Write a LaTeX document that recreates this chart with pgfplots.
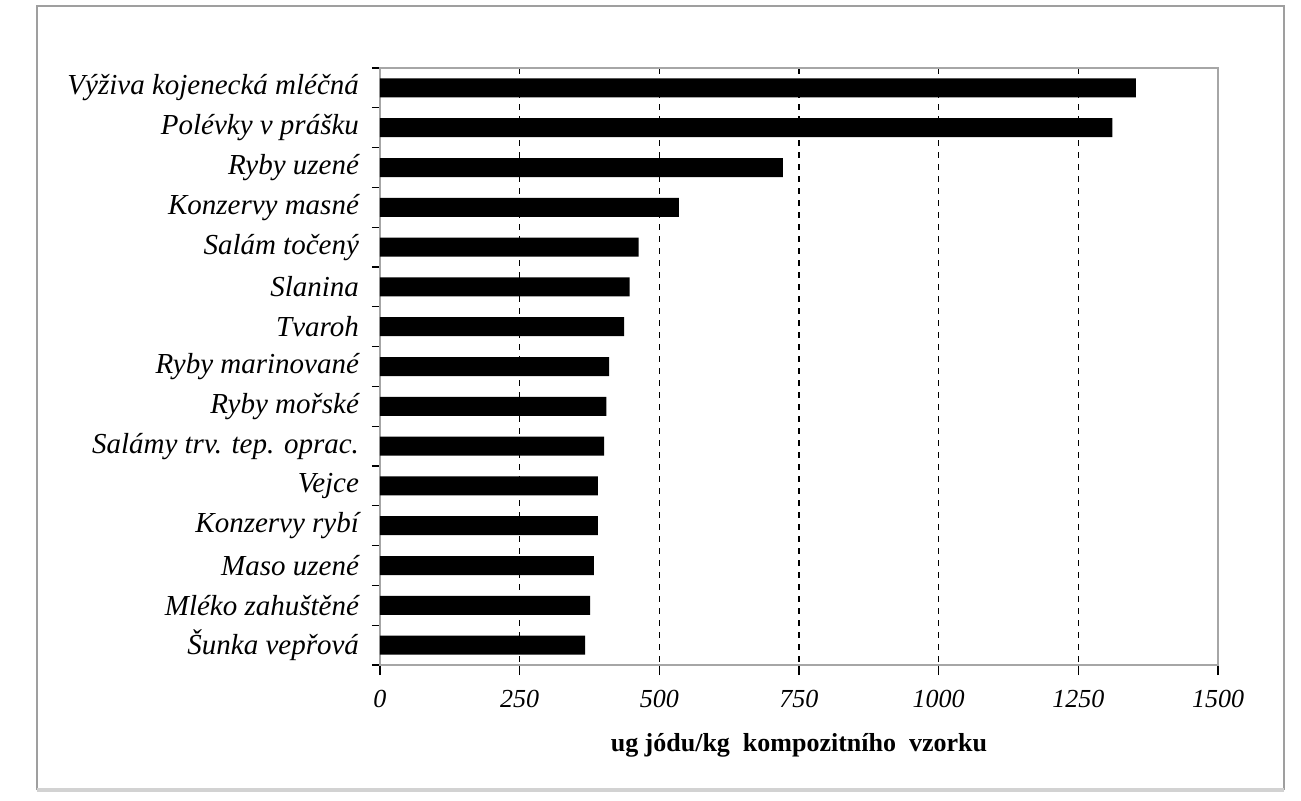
\documentclass[border=0pt]{standalone}
\usepackage{fontspec}
\setmainfont{Liberation Serif}
\usepackage{pgfplots}
\usepackage{pgfplotstable}
\pgfplotsset{compat=1.18}

% obsah jodu, 0 = nahore
\pgfplotstableread{
idx value
0 1353
1 1311
2 721
3 535
4 463
5 447
6 437
7 410
8 405
9 401
10 390
11 390
12 383
13 376
14 367
}\jodtable

\begin{document}
\begin{tikzpicture}
\path (-190pt,-67.5pt) rectangle (460.5pt,332.5pt);
\draw[gray!75, line width=1.3pt] (-171.5pt,-62.5pt) -- (-171.5pt,329.5pt) -- (452pt,329.5pt) -- (452pt,-62.5pt);
\draw[gray!35, line width=2pt] (-171.5pt,-62.5pt) -- (452pt,-62.5pt);
\begin{axis}[
  at={(0pt,0pt)}, anchor=south west,
  scale only axis, width=419pt, height=298.5pt,
  xbar, bar width=9.5pt, bar shift=0pt,
  xmin=0, xmax=1500,
  ymin=-0.5, ymax=14.5, y dir=reverse,
  xtick={0,250,...,1500},
  ytick={0,...,14},
  yticklabels={V\'{y}\v{z}iva kojeneck\'{a} ml\'{e}\v{c}n\'{a},
    Pol\'{e}vky v pr\'{a}\v{s}ku, Ryby uzen\'{e}, Konzervy masn\'{e},
    Sal\'{a}m to\v{c}en\'{y}, Slanina, Tvaroh, Ryby marinovan\'{e},
    Ryby mo\v{r}sk\'{e}, Sal\'{a}my trv. tep. oprac., Vejce,
    Konzervy ryb\'{\i}, Maso uzen\'{e}, Ml\'{e}ko zahu\v{s}t\v{e}n\'{e},
    \v{S}unka vep\v{r}ov\'{a}},
  minor ytick={-0.5,0.5,...,14.5},
  xtick pos=lower, ytick pos=left,
  major y tick style={draw=none},
  minor y tick style={black, line width=0.6pt},
  minor tick length=4pt,
  tick align=outside,
  major tick length=5pt,
  x tick style={black, line width=0.6pt},
  xmajorgrids,
  grid style={black, dashed, line width=0.6pt},
  axis line style={gray!70, line width=1.2pt},
  /pgf/number format/assume math mode=true,
  /pgf/number format/1000 sep={},
  xticklabel style={font=\fontsize{13}{15}\selectfont\itshape, yshift=-4pt},
  yticklabel style={font=\fontsize{14.5}{16}\selectfont\itshape, xshift=-2pt},
  xlabel={\bfseries ug j\'{o}du/kg\ \ kompozitn\'{\i}ho\ \ vzorku},
  xlabel style={font=\fontsize{13}{15}\selectfont, yshift=-6pt},
]
\addplot[fill=black, draw=none] table[x=value, y=idx] {\jodtable};
\end{axis}
\end{tikzpicture}
\end{document}
